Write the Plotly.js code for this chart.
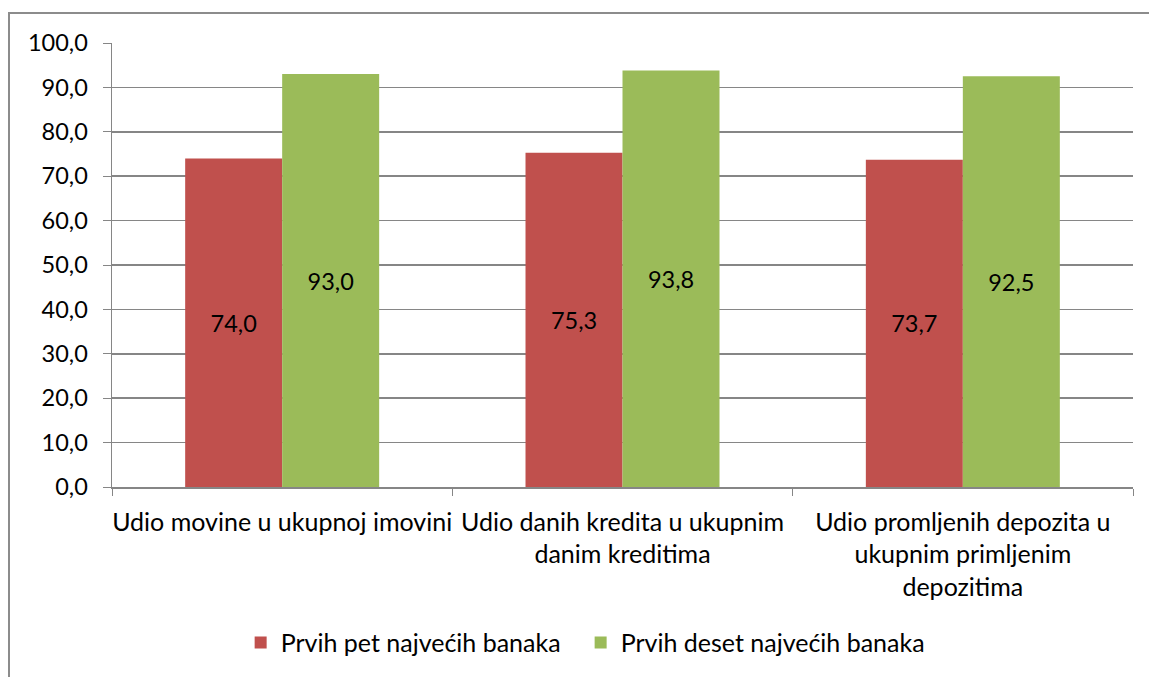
<!DOCTYPE html>
<html><head><meta charset="utf-8">
<script src="https://cdn.plot.ly/plotly-3.0.1.min.js"></script>
<style>html,body{margin:0;padding:0;background:#fff;}#frame{position:absolute;left:8px;top:12px;width:1200px;height:700px;border:2px solid #8c8c8c;pointer-events:none;z-index:10;box-sizing:border-box;}</style>
</head><body>
<div id="chart" style="width:1149px;height:677px;"></div>
<div id="frame"></div>
<script>
const categories = ["Udio movine u ukupnoj imovini", "Udio danih kredita u ukupnim<br>danim kreditima", "Udio promljenih depozita u<br>ukupnim primljenim<br>depozitima"];
const seriesNames = ["Prvih pet najvećih banaka", "Prvih deset najvećih banaka"];
const top5 = [74.0, 75.3, 73.7];
const top10 = [93.0, 93.8, 92.5];
const colors = ["#C0504D", "#9BBB59"];
const FONT = "Lato, 'Open Sans', sans-serif";
const FS = 23.5;
const FSW = 25;

function mk(vals, i, leg){
  return {type:'bar', x:categories, y:vals, name:seriesNames[i], legend:leg,
    marker:{color:colors[i], line:{width:0}},
    texttemplate:'%{y:.1f}', textposition:'inside', insidetextanchor:'middle',
    textfont:{family:FONT, size:FS, color:'#000'}, hoverinfo:'skip'};
}
const data = [mk(top5,0,'legend'), mk(top10,1,'legend2')];
const legBase = {orientation:'h', y:-0.348, yanchor:'middle', xanchor:'left',
    font:{family:FONT, size:FSW, color:'#000'}, itemwidth:30, bgcolor:'rgba(0,0,0,0)'};
const layout = {
  width:1149, height:677,
  margin:{l:112, r:16, t:43, b:189},
  separators:',.',
  font:{family:FONT, size:FS, color:'#000'},
  barmode:'group', bargap:0.43, bargroupgap:0,
  paper_bgcolor:'#fff', plot_bgcolor:'#fff',
  xaxis:{showgrid:false, showline:true, linecolor:'#868686', linewidth:1.5,
    ticks:'outside', tickson:'boundaries', ticklen:7, tickcolor:'#868686',
    ticklabelstandoff:12, tickangle:0,
    tickfont:{family:FONT, size:FSW, color:'#000'}, automargin:false},
  yaxis:{range:[0,100], dtick:10, tickformat:'.1f', showgrid:true, gridcolor:'#868686', gridwidth:1.5,
    showline:true, linecolor:'#868686', linewidth:1.5, ticks:'outside', ticklen:8, tickcolor:'#868686',
    ticklabelstandoff:10,
    tickfont:{family:FONT, size:FS, color:'#000'}, zeroline:false, automargin:false},
  legend:Object.assign({}, legBase, {x:0.126}),
  legend2:Object.assign({}, legBase, {x:0.459}),
  showlegend:true
};
Plotly.newPlot('chart', data, layout, {displayModeBar:false, staticPlot:true});
</script>
</body></html>
